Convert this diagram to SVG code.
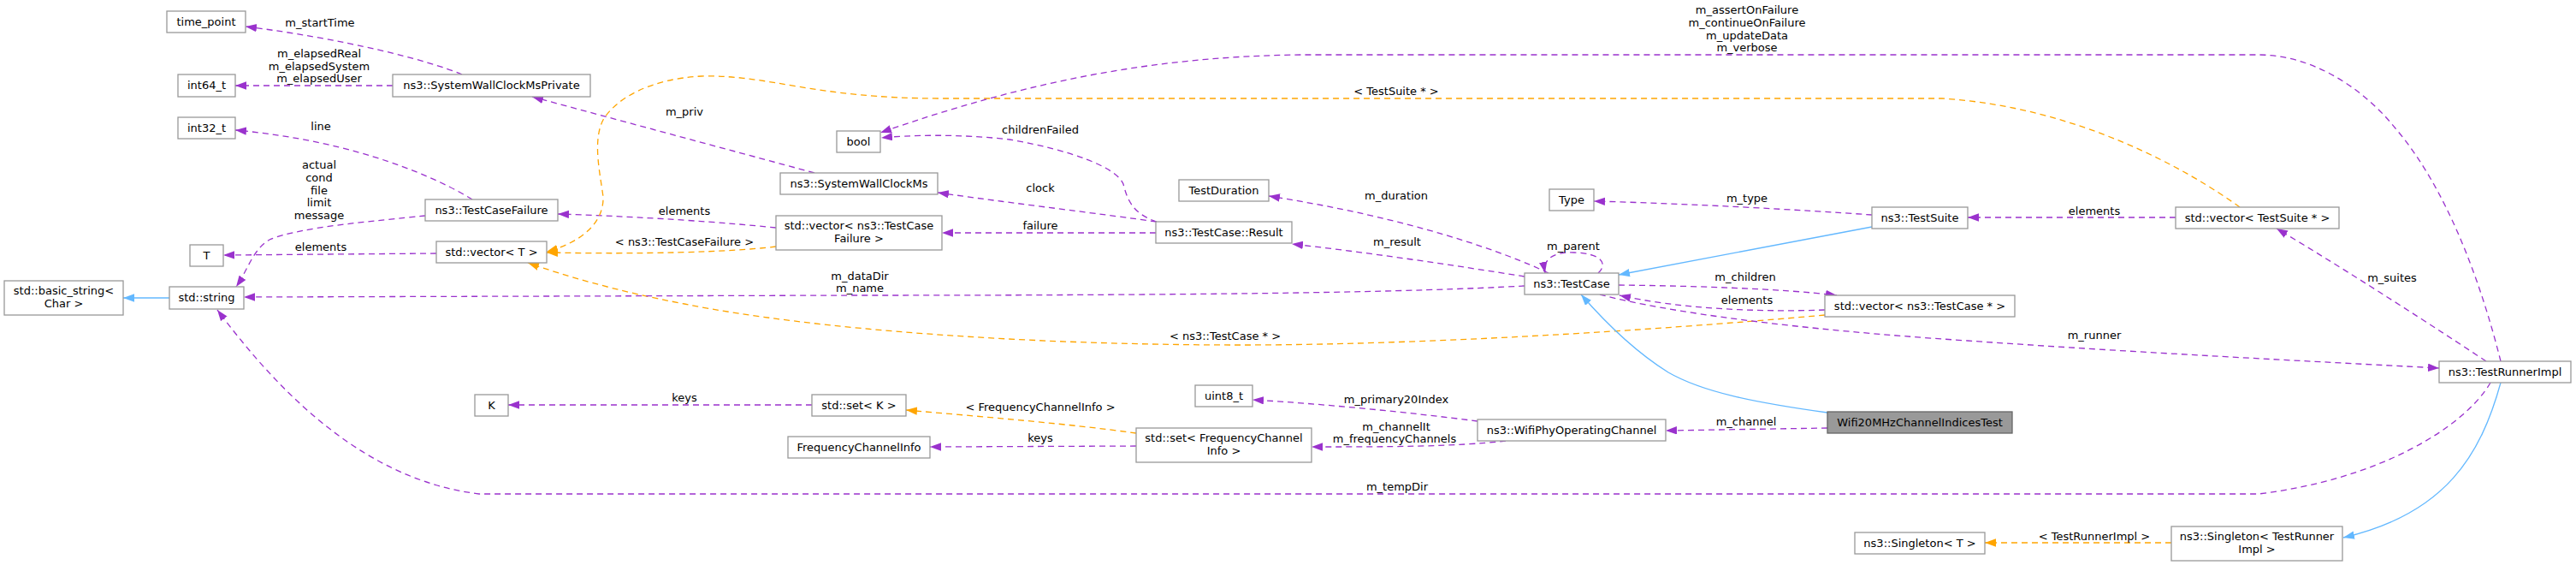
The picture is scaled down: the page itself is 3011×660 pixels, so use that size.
<svg xmlns="http://www.w3.org/2000/svg" width="3011" height="660" viewBox="0 0 3011 660">
<style>
text{font-family:"DejaVu Sans","Liberation Sans",sans-serif;font-size:13px;fill:#000;text-anchor:middle}
.n rect{fill:#fff;stroke:#999;stroke-width:1.3}
.m rect{fill:#999;stroke:#666;stroke-width:1.3}
.e{fill:none;stroke:#9a32cd;stroke-width:1.3;stroke-dasharray:7,5;marker-end:url(#ap)}
.o{fill:none;stroke:#ffa500;stroke-width:1.3;stroke-dasharray:7,5;marker-end:url(#ao)}
.b{fill:none;stroke:#63b8ff;stroke-width:1.3;marker-end:url(#ab)}
</style>
<defs>
<marker id="ap" markerUnits="userSpaceOnUse" markerWidth="14" markerHeight="10" refX="13" refY="4.7" orient="auto"><path d="M0,0 L13,4.7 L0,9.4 z" fill="#9a32cd"/></marker>
<marker id="ao" markerUnits="userSpaceOnUse" markerWidth="14" markerHeight="10" refX="13" refY="4.7" orient="auto"><path d="M0,0 L13,4.7 L0,9.4 z" fill="#ffa500"/></marker>
<marker id="ab" markerUnits="userSpaceOnUse" markerWidth="14" markerHeight="10" refX="13" refY="4.7" orient="auto"><path d="M0,0 L13,4.7 L0,9.4 z" fill="#63b8ff"/></marker>
</defs>
<rect width="3011" height="660" fill="#fff"/>
<g id="connectors">
<path class="e" d="M540,87 C500,70 400,45 287,31"/>
<path class="e" d="M459,100 L275,100"/>
<path class="e" d="M552,233 C515,210 420,165 275,152"/>
<path class="e" d="M497,252 C440,258 350,265 315,280 C295,292 290,315 276,335"/>
<path class="e" d="M510,296 L261,298"/>
<path class="e" d="M907,266 C850,260 750,253 652,250"/>
<path class="o" d="M907,288 C850,295 750,297 639,295"/>
<path class="e" d="M952,202 L622,113"/>
<path class="o" d="M2618,242 C2560,200 2430,125 2270,115 L1100,115 C950,115 900,87 820,89 C760,92 720,115 705,140 C692,165 702,205 705,230 C706,260 680,283 639,294"/>
<path class="o" d="M2133,368 C2000,380 1700,403 1450,403 C1200,403 950,385 800,355 C720,340 660,322 617,307"/>
<path class="e" d="M1782,334 C1650,341 1450,345 1000,345 L285,347"/>
<path class="e" d="M1352,259 C1250,245 1180,237 1096,225"/>
<path class="e" d="M1352,259 C1325,250 1318,235 1313,215 C1305,195 1250,175 1180,163 C1120,156 1060,158 1030,161"/>
<path class="e" d="M1351,272 L1101,272"/>
<path class="e" d="M1810,319 C1760,295 1650,255 1483,229"/>
<path class="e" d="M1782,323 C1700,310 1600,295 1510,285"/>
<path class="e" d="M1868,319 C1880,308 1872,296 1840,295 C1815,294 1803,303 1806,319"/>
<path class="e" d="M2188,251 C2100,245 1980,238 1863,235"/>
<path class="e" d="M2543,254 L2300,254"/>
<path class="e" d="M1892,333 C1980,334 2080,337 2147,345"/>
<path class="e" d="M2133,362 C2050,365 1960,360 1893,345"/>
<path class="e" d="M1870,344 C1950,365 2100,385 2300,398 C2500,412 2700,422 2851,430"/>
<path class="e" d="M2923,422 C2900,330 2860,220 2800,150 C2760,100 2700,64 2640,64 L1520,64 C1350,66 1200,95 1029,155"/>
<path class="e" d="M2906,422 C2850,385 2750,320 2661,267"/>
<path class="e" d="M2911,447 C2880,500 2780,560 2640,577 L560,577 C420,560 320,450 254,362"/>
<path class="e" d="M2136,500 L1947,503"/>
<path class="e" d="M1727,492 C1650,482 1550,472 1464,467"/>
<path class="e" d="M1760,515 C1700,522 1620,522 1533,522"/>
<path class="o" d="M1328,506 C1250,495 1150,487 1059,479"/>
<path class="e" d="M1328,521 L1087,522"/>
<path class="e" d="M949,473 L594,473"/>
<path class="b" d="M198,348 L144,348"/>
<path class="b" d="M2188,265 L1892,321"/>
<path class="b" d="M2136,482 C2050,470 1990,458 1950,435 C1910,410 1875,375 1848,344"/>
<path class="b" d="M2923,447 C2900,530 2860,600 2739,628"/>
<path class="o" d="M2538,634 L2320,634"/>
<text x="374" y="31">m_startTime</text>
<text x="373" y="67">m_elapsedReal</text>
<text x="373" y="81.5">m_elapsedSystem</text>
<text x="373" y="96">m_elapsedUser</text>
<text x="375" y="152">line</text>
<text x="373" y="197">actual</text>
<text x="373" y="211.8">cond</text>
<text x="373" y="226.6">file</text>
<text x="373" y="241.4">limit</text>
<text x="373" y="256">message</text>
<text x="375" y="293">elements</text>
<text x="800" y="251">elements</text>
<text x="800" y="287">&lt; ns3::TestCaseFailure &gt;</text>
<text x="800" y="135">m_priv</text>
<text x="1632" y="111">&lt; TestSuite * &gt;</text>
<text x="1432" y="397">&lt; ns3::TestCase * &gt;</text>
<text x="1005" y="327">m_dataDir</text>
<text x="1005" y="341">m_name</text>
<text x="1216" y="224">clock</text>
<text x="1216" y="156">childrenFailed</text>
<text x="1216" y="268">failure</text>
<text x="1632" y="233">m_duration</text>
<text x="1633" y="287">m_result</text>
<text x="1839" y="292">m_parent</text>
<text x="2042" y="236">m_type</text>
<text x="2448" y="251">elements</text>
<text x="2040" y="328">m_children</text>
<text x="2042" y="355">elements</text>
<text x="2448" y="396">m_runner</text>
<text x="2042" y="16">m_assertOnFailure</text>
<text x="2042" y="31">m_continueOnFailure</text>
<text x="2042" y="45.5">m_updateData</text>
<text x="2042" y="60">m_verbose</text>
<text x="2796" y="328.5">m_suites</text>
<text x="1633" y="573">m_tempDir</text>
<text x="2041" y="497">m_channel</text>
<text x="1632" y="471">m_primary20Index</text>
<text x="1632" y="503">m_channelIt</text>
<text x="1630" y="517">m_frequencyChannels</text>
<text x="1216" y="480">&lt; FrequencyChannelInfo &gt;</text>
<text x="1216" y="516">keys</text>
<text x="800" y="469">keys</text>
<text x="2448" y="631">&lt; TestRunnerImpl &gt;</text>
</g>
<g id="time_point" class="n"><rect x="195" y="13" width="92" height="25"/><text x="241" y="30">time_point</text></g>
<g id="int64_t" class="n"><rect x="208" y="87" width="67" height="26"/><text x="241.5" y="104">int64_t</text></g>
<g id="int32_t" class="n"><rect x="208" y="137" width="67" height="25"/><text x="241.5" y="154">int32_t</text></g>
<g id="T" class="n"><rect x="222" y="286" width="39" height="25"/><text x="241.5" y="303">T</text></g>
<g id="basic_string" class="n"><rect x="5" y="328" width="139" height="40"/><text x="74.5" y="344">std::basic_string&lt;</text><text x="74.5" y="359">Char &gt;</text></g>
<g id="std_string" class="n"><rect x="198" y="335" width="87" height="26"/><text x="241.5" y="352">std::string</text></g>
<g id="SystemWallClockMsPrivate" class="n"><rect x="459" y="87" width="231" height="26"/><text x="574.5" y="104">ns3::SystemWallClockMsPrivate</text></g>
<g id="TestCaseFailure" class="n"><rect x="497" y="233" width="155" height="25"/><text x="574.5" y="250">ns3::TestCaseFailure</text></g>
<g id="vector_T" class="n"><rect x="510" y="282" width="129" height="25"/><text x="574.5" y="299">std::vector&lt; T &gt;</text></g>
<g id="bool" class="n"><rect x="978" y="153" width="51" height="25"/><text x="1003.5" y="170">bool</text></g>
<g id="SystemWallClockMs" class="n"><rect x="912" y="202" width="184" height="25"/><text x="1004" y="219">ns3::SystemWallClockMs</text></g>
<g id="vector_TestCaseFailure" class="n"><rect x="907" y="252" width="194" height="40"/><text x="1004" y="268">std::vector&lt; ns3::TestCase</text><text x="1004" y="283">Failure &gt;</text></g>
<g id="TestDuration" class="n"><rect x="1378" y="210" width="105" height="25"/><text x="1430.5" y="227">TestDuration</text></g>
<g id="TestCase_Result" class="n"><rect x="1351" y="259" width="159" height="25"/><text x="1430.5" y="276">ns3::TestCase::Result</text></g>
<g id="Type" class="n"><rect x="1811" y="221" width="52" height="25"/><text x="1837" y="238">Type</text></g>
<g id="TestCase" class="n"><rect x="1782" y="319" width="110" height="25"/><text x="1837" y="336">ns3::TestCase</text></g>
<g id="TestSuite" class="n"><rect x="2188" y="242" width="112" height="25"/><text x="2244" y="259">ns3::TestSuite</text></g>
<g id="vector_TestSuite" class="n"><rect x="2543" y="242" width="191" height="25"/><text x="2638.5" y="259">std::vector&lt; TestSuite * &gt;</text></g>
<g id="vector_TestCase" class="n"><rect x="2133" y="345" width="222" height="25"/><text x="2244" y="362">std::vector&lt; ns3::TestCase * &gt;</text></g>
<g id="TestRunnerImpl" class="n"><rect x="2851" y="422" width="154" height="25"/><text x="2928" y="439">ns3::TestRunnerImpl</text></g>
<g id="K" class="n"><rect x="555" y="461" width="39" height="25"/><text x="574.5" y="478">K</text></g>
<g id="set_K" class="n"><rect x="949" y="461" width="110" height="25"/><text x="1004" y="478">std::set&lt; K &gt;</text></g>
<g id="FrequencyChannelInfo" class="n"><rect x="921" y="510" width="166" height="25"/><text x="1004" y="527">FrequencyChannelInfo</text></g>
<g id="uint8_t" class="n"><rect x="1397" y="450" width="67" height="25"/><text x="1430.5" y="467">uint8_t</text></g>
<g id="set_FrequencyChannelInfo" class="n"><rect x="1328" y="500" width="205" height="40"/><text x="1430.5" y="516">std::set&lt; FrequencyChannel</text><text x="1430.5" y="531">Info &gt;</text></g>
<g id="WifiPhyOperatingChannel" class="n"><rect x="1727" y="490" width="220" height="25"/><text x="1837" y="507">ns3::WifiPhyOperatingChannel</text></g>
<g id="Wifi20MHzChannelIndicesTest" class="m"><rect x="2136" y="481" width="216" height="25"/><text x="2244" y="498">Wifi20MHzChannelIndicesTest</text></g>
<g id="Singleton_T" class="n"><rect x="2168" y="622" width="152" height="25"/><text x="2244" y="639">ns3::Singleton&lt; T &gt;</text></g>
<g id="Singleton_TestRunnerImpl" class="n"><rect x="2538" y="615" width="200" height="40"/><text x="2638" y="631">ns3::Singleton&lt; TestRunner</text><text x="2638" y="646">Impl &gt;</text></g>
</svg>
